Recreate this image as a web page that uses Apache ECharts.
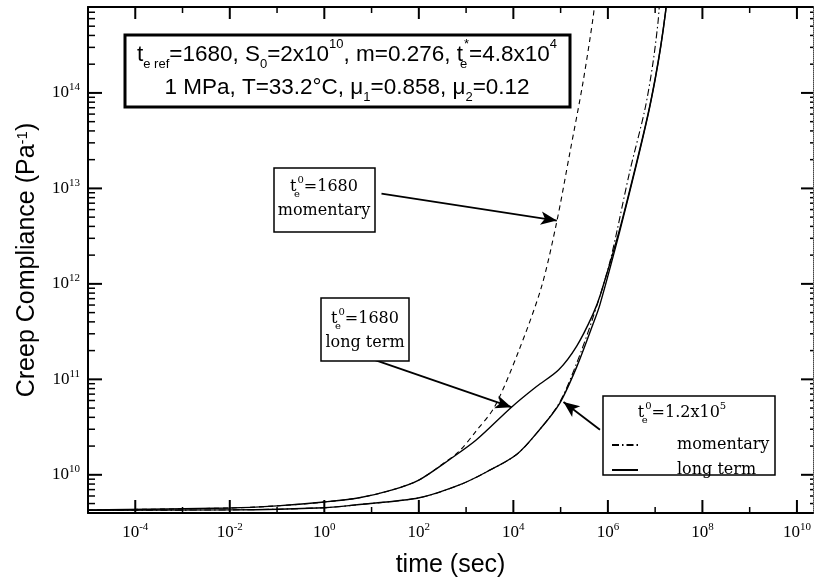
<!DOCTYPE html>
<html><head><meta charset="utf-8">
<script src="https://cdn.jsdelivr.net/npm/echarts@6/dist/echarts.min.js"></script>
<style>html,body{margin:0;padding:0;background:#fff}#c{width:815px;height:583px}</style>
</head><body><div id="c"></div>
<script>
// ---- data: time (s) and creep compliance (1/Pa) ----
const mom1680Time = [1e-5, 1e-2, 1e-1, 1, 5.5, 27.5, 100, 320, 724, 1580, 3980, 12600, 38900, 81300, 1.55e5, 2.95e5, 4.9e5, 5.37e5];
const mom1680J    = [4.28e9, 4.49e9, 4.73e9, 5.19e9, 5.75e9, 6.95e9, 8.81e9, 1.3e10, 1.78e10, 2.82e10, 5.13e10, 1.91e11, 9.12e11, 4.27e12, 2.29e13, 1.26e14, 6.31e14, 1e15];

const long1680Time = [1e-5, 1e-2, 1e-1, 1, 5.5, 27.5, 100, 513, 1660, 9120, 30900, 91200, 2.19e5, 4.79e5, 7.08e5, 1.78e6, 3.98e6, 7.08e6, 1e7, 1.32e7, 1.66e7, 1.78e7];
const long1680J    = [4.28e9, 4.49e9, 4.73e9, 5.19e9, 5.75e9, 6.95e9, 8.81e9, 1.52e10, 2.33e10, 5.11e10, 8.41e10, 1.26e11, 2.23e11, 4.76e11, 7.94e11, 3.75e12, 1.81e13, 6.03e13, 1.41e14, 3.16e14, 7.08e14, 1e15];

const mom12e5Time = [1e-5, 1e-2, 1, 5.5, 102, 724, 2690, 11700, 35500, 95500, 2.19e5, 4.79e5, 1.1e6, 2.88e6, 6.03e6, 8.91e6, 1.15e7, 1.26e7];
const mom12e5J    = [4.26e9, 4.29e9, 4.52e9, 4.88e9, 5.75e9, 7.83e9, 1.07e10, 1.63e10, 2.95e10, 5.75e10, 1.48e11, 4.37e11, 1.69e12, 1.48e13, 6.61e13, 2.0e14, 5.5e14, 1e15];

const long12e5Time = [1e-5, 1e-2, 1, 5.5, 102, 724, 2690, 11700, 35500, 95500, 2.19e5, 4.79e5, 6.76e5, 1.78e6, 3.98e6, 7.08e6, 1e7, 1.32e7, 1.66e7, 1.78e7];
const long12e5J    = [4.26e9, 4.29e9, 4.52e9, 4.88e9, 5.75e9, 7.83e9, 1.07e10, 1.63e10, 2.95e10, 5.61e10, 1.35e11, 3.73e11, 6.03e11, 3.55e12, 1.74e13, 5.89e13, 1.38e14, 3.09e14, 7.0e14, 1e15];

// ---- axes (decade exponents) ----
const xExtentExp = [-5, 10.34];
const yExtentExp = [9.6, 14.9];
const xMajorExp = [-4, -2, 0, 2, 4, 6, 8, 10];
const xMinorExp = [-3, -1, 1, 3, 5, 7, 9];
const yMajorExp = [10, 11, 12, 13, 14];
const yMinorExp = [];
for (let n = 9; n <= 14; n++) for (let k = 2; k <= 9; k++) {
  const v = n + Math.log10(k);
  if (v > yExtentExp[0] && v < yExtentExp[1]) yMinorExp.push(v);
}

// ---- annotation arrows: [time, compliance] start -> end ----
const arrowMom1680  = [[16.2, 8.8e12], [83000, 4.6e12]];
const arrowLong1680 = [[7.8, 1.71e11], [9120, 5.11e10]];
const arrowBox3     = [[6.8e5, 2.96e10], [1.15e5, 5.8e10]];

const lg = Math.log10;
const pts = (t, j) => t.map((x, i) => [lg(x), lg(j[i])]);
const arrowData = a => [[{coord: [lg(a[0][0]), lg(a[0][1])], symbol: 'none'},
                         {coord: [lg(a[1][0]), lg(a[1][1])], symbol: 'arrow', symbolSize: [10, 16]}]];

// tick marks: value, side (0 left, 1 right, 2 bottom, 3 top), length px
const tickVal = [], tickSide = [], tickLen = [];
const addTick = (v, s, l) => { tickVal.push(v); tickSide.push(s); tickLen.push(l); };
yMajorExp.forEach(v => { addTick(v, 0, 14); addTick(v, 1, 12); });
yMinorExp.forEach(v => { addTick(v, 0, 7); addTick(v, 1, 3); });
xMajorExp.forEach(v => { addTick(v, 2, 13); addTick(v, 3, 12); });
xMinorExp.forEach(v => { addTick(v, 2, 6); addTick(v, 3, 6); });

const chart = echarts.init(document.getElementById('c'));
const SERIF = 'Liberation Serif';
const ANN = 'DejaVu Serif';
const SANS = 'Liberation Sans';
const expLabel = v => '{b|10}{s|' + Math.round(v) + '}';
const labelRich = {
  b: {fontFamily: SERIF, fontSize: 17, color: '#000', lineHeight: 22},
  s: {fontFamily: SERIF, fontSize: 11, color: '#000', verticalAlign: 'top', lineHeight: 14}
};

const arrowLine = data => ({
  silent: true, animation: false, symbol: ['none', 'arrow'], symbolSize: 14,
  label: {show: false}, lineStyle: {color: '#000', width: 1.8, type: 'solid', opacity: 1},
  itemStyle: {color: '#000'},
  emphasis: {disabled: true}, data: data
});

const lineSeries = (name, data, type, width, markLine) => ({
  name: name, type: 'line', data: data, symbol: 'none', showSymbol: false,
  smooth: 0.3, animation: false, clip: true, z: 3,
  lineStyle: {color: '#000', width: width, type: type},
  itemStyle: {color: '#000'},
  emphasis: {disabled: true},
  markLine: markLine
});

const rect = (x, y, w, h, lw) => ({type: 'rect', shape: {x: x, y: y, width: w, height: h},
  style: {fill: '#fff', stroke: '#000', lineWidth: lw}, z: 10});
const txt = (x, y, text, rich, lh) => ({type: 'text', x: x, y: y, z: 11,
  style: {text: text, align: 'center', verticalAlign: 'middle', rich: rich, lineHeight: lh}});

const boxRich = {
  n: {fontFamily: SANS, fontSize: 22.5, color: '#000', lineHeight: 33},
  sub: {fontFamily: SANS, fontSize: 13, color: '#000', verticalAlign: 'bottom', lineHeight: 22},
  subz: {fontFamily: SANS, fontSize: 13, color: '#000', verticalAlign: 'bottom', lineHeight: 22, width: 1, align: 'left'},
  sup: {fontFamily: SANS, fontSize: 13, color: '#000', verticalAlign: 'top', lineHeight: 22}
};
const annRich = {
  n: {fontFamily: ANN, fontSize: 16, color: '#000', lineHeight: 24},
  subz: {fontFamily: ANN, fontSize: 10, color: '#000', verticalAlign: 'bottom', lineHeight: 16, width: 1, align: 'left'},
  sup: {fontFamily: ANN, fontSize: 10, color: '#000', verticalAlign: 'top', lineHeight: 16}
};

const option = {
  backgroundColor: '#fff',
  animation: false,
  grid: {left: 88, right: 2, top: 7, bottom: 62, containLabel: false},
  xAxis: [
    {type: 'value', min: xExtentExp[0], max: xExtentExp[1], position: 'bottom',
     axisLine: {show: true, onZero: false, lineStyle: {color: '#000', width: 2}},
     axisTick: {show: false},
     axisLabel: {show: true, customValues: xMajorExp, formatter: expLabel, rich: labelRich, margin: 9},
     splitLine: {show: false},
     name: 'time (sec)', nameLocation: 'middle', nameGap: 40,
     nameTextStyle: {fontFamily: SANS, fontSize: 25, color: '#000'}},
    {type: 'value', min: xExtentExp[0], max: xExtentExp[1], position: 'top',
     axisLine: {show: true, onZero: false, lineStyle: {color: '#000', width: 2}},
     axisTick: {show: false}, axisLabel: {show: false}, splitLine: {show: false}}
  ],
  yAxis: [
    {type: 'value', min: yExtentExp[0], max: yExtentExp[1], position: 'left',
     axisLine: {show: true, onZero: false, lineStyle: {color: '#000', width: 2}},
     axisTick: {show: false},
     axisLabel: {show: true, customValues: yMajorExp, formatter: expLabel, rich: labelRich, margin: 8},
     splitLine: {show: false},
     name: 'Creep Compliance (Pa{s|-1})', nameLocation: 'middle', nameGap: 48, nameRotate: 90,
     nameTextStyle: {fontFamily: SANS, fontSize: 25, color: '#000',
       rich: {s: {fontFamily: SANS, fontSize: 15, color: '#000', verticalAlign: 'top', lineHeight: 16}}}},
    {type: 'value', min: yExtentExp[0], max: yExtentExp[1], position: 'right',
     axisLine: {show: true, onZero: false, lineStyle: {color: '#444', width: 1, type: 'dotted'}},
     axisTick: {show: false}, axisLabel: {show: false}, splitLine: {show: false}}
  ],
  legend: {
    data: ['momentary', 'long term'], orient: 'vertical', left: 606, top: 432,
    itemWidth: 26, itemHeight: 12, itemGap: 9, selectedMode: false, z: 20,
    itemStyle: {opacity: 0},
    textStyle: {fontFamily: ANN, fontSize: 16, color: '#000', padding: [0, 0, 0, 34]}
  },
  series: [
    lineSeries('t0 1680 momentary', pts(mom1680Time, mom1680J), [5, 4], 1.1, arrowLine(arrowData(arrowMom1680))),
    lineSeries('t0 1680 long term', pts(long1680Time, long1680J), 'solid', 1.4, arrowLine(arrowData(arrowLong1680))),
    lineSeries('momentary', pts(mom12e5Time, mom12e5J), [7, 3, 1.5, 3], 1.1, arrowLine(arrowData(arrowBox3))),
    lineSeries('long term', pts(long12e5Time, long12e5J), 'solid', 1.4)
  ],
  graphic: [
    rect(125, 35, 445, 72, 3),
    txt(347, 71, '{n|t}{sub|e ref}{n|=1680, S}{sub|0}{n|=2x10}{sup|10}{n|, m=0.276, t}{subz|e}{sup|*}{n|=4.8x10}{sup|4}\n{n|1 MPa, T=33.2°C, μ}{sub|1}{n|=0.858, μ}{sub|2}{n|=0.12}', boxRich, 33),
    rect(274, 168, 101, 64, 1.5),
    txt(324, 199, '{n|t}{subz|e}{sup|0}{n|=1680}\n{n|momentary}', annRich, 24),
    rect(321, 298, 88, 63, 1.5),
    txt(365, 331, '{n|t}{subz|e}{sup|0}{n|=1680}\n{n|long term}', annRich, 24),
    rect(603, 396, 172, 79, 1.5),
    txt(682, 413, '{n|t}{subz|e}{sup|0}{n|=1.2x10}{sup|5}', annRich, 24)
  ]
};
chart.setOption(option);

// tick marks placed through the chart's own axis scales
const tickEls = tickVal.map((v, i) => {
  const s = tickSide[i], len = tickLen[i];
  let p, q;
  if (s === 0) { p = chart.convertToPixel({gridIndex: 0}, [xExtentExp[0], v]); q = [p[0] + len, p[1]]; }
  else if (s === 1) { p = chart.convertToPixel({gridIndex: 0}, [xExtentExp[1], v]); q = [p[0] - len, p[1]]; }
  else if (s === 2) { p = chart.convertToPixel({gridIndex: 0}, [v, yExtentExp[0]]); q = [p[0], p[1] - len]; }
  else { p = chart.convertToPixel({gridIndex: 0}, [v, yExtentExp[1]]); q = [p[0], p[1] + len]; }
  return {type: 'line', z: 6, silent: true, shape: {x1: p[0], y1: p[1], x2: q[0], y2: q[1]},
          style: {stroke: '#000', lineWidth: len >= 9 ? 2 : 1.5}};
});
chart.setOption({graphic: option.graphic.concat(tickEls)}, {replaceMerge: ['graphic']});
</script>
</body></html>
